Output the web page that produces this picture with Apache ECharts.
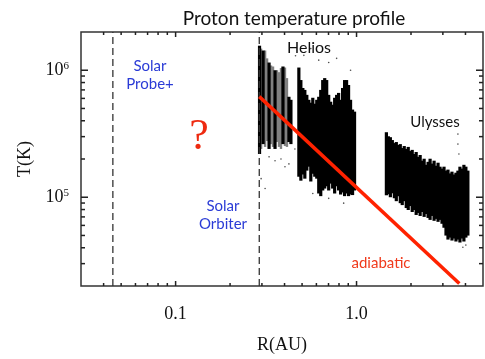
<!DOCTYPE html>
<html>
<head>
<meta charset="utf-8">
<script src="https://cdn.jsdelivr.net/npm/echarts@6/dist/echarts.min.js"></script>
<style>
  html, body { margin: 0; padding: 0; background: #fff; }
  #chart { width: 485px; height: 359px; }
</style>
</head>
<body>
<div id="chart"></div>
<script>
// Helios streaks: [R (AU), T low (K), T high (K)]
const heliosBlack = [
  [0.291, 2.19e5, 1.56e6], [0.3045, 2.62e5, 1.43e6], [0.3285, 2.4e5, 1.15e6],
  [0.3544, 2.4e5, 1.0e6], [0.3921, 2.62e5, 1.07e6], [0.423, 2.72e5, 6.18e5],
  [0.4339, 2.62e5, 5.85e5], [0.480, 1.45e5, 1.05e6], [0.4924, 1.35e5, 8.37e5],
  [0.505, 1.51e5, 7.25e5], [0.5179, 1.40e5, 7.0e5], [0.5312, 1.62e5, 6.4e5],
  [0.5448, 1.74e5, 5.85e5], [0.5588, 1.33e5, 5.55e5], [0.5731, 1.53e5, 6.07e5],
  [0.5877, 1.45e5, 5.45e5], [0.6028, 1.40e5, 5.85e5], [0.6182, 1.07e5, 6.18e5],
  [0.6341, 1.02e5, 7.0e5], [0.6503, 1.13e5, 8.37e5], [0.667, 1.17e5, 8.67e5],
  [0.684, 1.22e5, 8.37e5], [0.7016, 1.13e5, 6.4e5], [0.7196, 1.28e5, 5.65e5],
  [0.738, 1.17e5, 5.35e5], [0.7569, 1.07e5, 6.07e5], [0.7763, 1.22e5, 6.4e5],
  [0.7962, 1.13e5, 6.63e5], [0.8166, 1.05e5, 5.85e5], [0.8375, 1.09e5, 7.25e5],
  [0.859, 1.02e5, 8.37e5], [0.881, 1.07e5, 8.37e5], [0.9036, 1.02e5, 7.65e5],
  [0.9268, 1.05e5, 5.85e5], [0.9506, 1.04e5, 4.9e5], [0.975, 1.13e5, 4.72e5]
]
const heliosGray = [
  [0.2969, 2.4e5, 1.48e6], [0.3123, 2.49e5, 1.43e6], [0.3203, 2.77e5, 1.24e6],
  [0.3369, 2.62e5, 1.09e6], [0.3455, 2.49e5, 1.07e6], [0.3635, 2.72e5, 1.0e6],
  [0.3728, 2.49e5, 9.65e5], [0.3823, 2.4e5, 1.04e6], [0.4022, 2.53e5, 1.05e6],
  [0.4125, 2.49e5, 8.67e5]
]
const heliosDots = [
  [0.3285, 2.08e5], [0.3544, 1.94e5], [0.3823, 2.0e5], [0.4022, 1.74e5],
  [0.423, 1.83e5], [0.2969, 1.40e5], [0.3123, 1.17e5], [0.4564, 2.4e5],
  [0.46, 1.3e6], [0.5115, 1.31e6], [0.5588, 1.48e6], [0.6182, 1.2e6],
  [0.7016, 1.15e6], [0.7763, 1.24e6], [0.9268, 1.0e6], [0.5731, 1.07e5],
  [0.7016, 9.8e4], [0.849, 8.98e4]
]
// Ulysses streaks: [R (AU), T low (K), T high (K)]
const ulysses = [
  [1.462, 1.036e5, 3.25e5], [1.499, 1.055e5, 3.02e5], [1.538, 1.0e5, 2.97e5],
  [1.577, 1.074e5, 2.82e5], [1.618, 9.82e4, 2.67e5], [1.659, 9.31e4, 2.72e5],
  [1.701, 1.018e5, 2.58e5], [1.745, 8.98e4, 2.62e5], [1.789, 8.67e4, 2.44e5],
  [1.835, 9.31e4, 2.53e5], [1.883, 8.22e4, 2.40e5], [1.931, 7.93e4, 2.49e5],
  [1.980, 8.52e4, 2.31e5], [2.031, 7.65e4, 2.36e5], [2.083, 7.93e4, 2.19e5],
  [2.136, 7.25e4, 2.27e5], [2.191, 7.52e4, 2.08e5], [2.247, 7.12e4, 2.15e5],
  [2.305, 7.65e4, 1.94e5], [2.364, 7.0e4, 2.01e5], [2.424, 7.38e4, 1.80e5],
  [2.486, 6.87e4, 1.90e5], [2.550, 6.63e4, 2.01e5], [2.616, 7.12e4, 1.84e5],
  [2.683, 6.52e4, 1.94e5], [2.751, 6.75e4, 1.77e5], [2.822, 6.40e4, 1.87e5],
  [2.894, 6.63e4, 1.74e5], [2.968, 6.18e4, 1.68e5], [3.044, 5.75e4, 1.74e5],
  [3.122, 4.99e4, 1.62e5], [3.202, 4.64e4, 1.65e5], [3.284, 4.81e4, 1.54e5],
  [3.369, 4.56e4, 1.59e5], [3.455, 4.73e4, 1.51e5], [3.544, 4.48e4, 1.56e5],
  [3.634, 4.64e4, 1.62e5], [3.728, 4.40e4, 1.74e5], [3.823, 4.73e4, 1.68e5],
  [3.921, 4.48e4, 1.80e5], [4.021, 4.81e4, 1.74e5], [4.125, 4.99e4, 1.62e5]
]
const ulyssesDots = [
  [3.634, 3.14e5], [3.634, 2.62e5], [3.68, 2.19e5], [3.87, 4.04e4], [4.02, 4.2e4]
]
// adiabatic T ~ R^(-4/3)
const adiabatic = [[0.29, 6.2e5], [3.7, 2.09e4]]
const missionR = [0.045, 0.29] // Solar Probe+, Solar Orbiter perihelia

const xRange = [0.03, 5]
const yRange = [2e4, 2e6]
const xMajor = [0.1, 1]
const xMinor = [0.04, 0.05, 0.06, 0.07, 0.08, 0.09, 0.2, 0.3, 0.4, 0.5, 0.6, 0.7, 0.8, 0.9, 2, 3, 4]
const yMajor = [1e5, 1e6]
const yMinor = [3e4, 4e4, 5e4, 6e4, 7e4, 8e4, 9e4, 2e5, 3e5, 4e5, 5e5, 6e5, 7e5, 8e5, 9e5]

const axisColor = '#222'
const serif = '"Liberation Serif", "DejaVu Serif", serif'
const sans = 'Lato, "Open Sans", sans-serif'

// tick records: [x, y, length] sitting on the frame
const xTickData = []
xMajor.forEach(v => xTickData.push([v, yRange[0], 5], [v, yRange[1], 5]))
xMinor.forEach(v => xTickData.push([v, yRange[0], 3], [v, yRange[1], 3]))
const yTickData = []
yMajor.forEach(v => yTickData.push([xRange[0], v, 7], [xRange[1], v, 7]))
yMinor.forEach(v => yTickData.push([xRange[0], v, 4], [xRange[1], v, 4]))

const chart = echarts.init(document.getElementById('chart'))

chart.setOption({
  animation: false,
  title: {
    text: 'Proton temperature profile',
    left: 289,
    top: 4,
    textAlign: 'center',
    textStyle: { fontFamily: sans, fontSize: 19, fontWeight: 'normal', color: '#111' }
  },
  grid: { left: 81, top: 32, right: 2, bottom: 69, show: true, borderColor: '#333', borderWidth: 1.5 },
  xAxis: {
    type: 'log',
    min: xRange[0],
    max: xRange[1],
    name: 'R(AU)',
    nameLocation: 'middle',
    nameGap: 50,
    nameTextStyle: { fontFamily: serif, fontSize: 18, color: '#111' },
    axisLine: { show: false },
    axisTick: { show: false },
    splitLine: { show: false },
    axisLabel: {
      customValues: xMajor,
      margin: 19,
      fontFamily: serif,
      fontSize: 18,
      color: '#111',
      formatter: v => (v < 0.5 ? '0.1' : '1.0')
    }
  },
  yAxis: {
    type: 'log',
    min: yRange[0],
    max: yRange[1],
    name: 'T(K)',
    nameLocation: 'middle',
    nameGap: 46,
    nameTextStyle: { fontFamily: serif, fontSize: 18, color: '#111' },
    axisLine: { show: false },
    axisTick: { show: false },
    splitLine: { show: false },
    axisLabel: {
      customValues: yMajor,
      margin: 12,
      color: '#111',
      formatter: v => '{b|10}{s|' + Math.round(Math.log10(v)) + '}',
      rich: {
        b: { fontFamily: serif, fontSize: 18, color: '#111' },
        s: { fontFamily: serif, fontSize: 11, color: '#111', verticalAlign: 'bottom', padding: [0, 0, 9, 0] }
      }
    }
  },
  series: [
    // inward frame ticks first
    {
      type: 'custom',
      clip: false,
      z: 6,
      data: xTickData,
      renderItem(params, api) {
        const p = api.coord([api.value(0), api.value(1)])
        const len = api.value(2)
        const up = api.value(1) < 1e5
        return {
          type: 'rect',
          shape: { x: p[0] - 0.75, y: up ? p[1] - len : p[1], width: 1.5, height: len },
          style: { fill: axisColor }
        }
      }
    },
    {
      type: 'custom',
      clip: false,
      z: 6,
      data: yTickData,
      renderItem(params, api) {
        const p = api.coord([api.value(0), api.value(1)])
        const len = api.value(2)
        const left = api.value(0) < 1
        return {
          type: 'rect',
          shape: { x: left ? p[0] : p[0] - len, y: p[1] - 0.75, width: len, height: 1.5 },
          style: { fill: axisColor }
        }
      }
    },
    streaks('Helios gray', heliosGray, '#808080', 2.4),
    streaks('Helios', heliosBlack, '#000', 3.2),
    streaks('Ulysses', ulysses, '#000', 3.2),
    {
      type: 'scatter',
      data: heliosDots.concat(ulyssesDots),
      symbolSize: 1.6,
      itemStyle: { color: '#222' },
      z: 3
    },
    ...missionR.map(r => ({
      type: 'line',
      data: [[r, yRange[0]], [r, yRange[1]]],
      symbol: 'none',
      silent: true,
      lineStyle: { color: '#333', type: [7, 4], width: 1.3 },
      z: 4
    })),
    {
      name: 'adiabatic',
      type: 'line',
      data: adiabatic,
      symbol: 'none',
      lineStyle: { color: '#ff2200', width: 3.5 },
      z: 5
    }
  ],
  graphic: [
    text('Solar\nProbe+', 150, 75, '#2a3bd6', 15, sans),
    text('Solar\nOrbiter', 223, 215, '#2a3bd6', 15, sans),
    text('Helios', 309, 48, '#111', 16, sans),
    text('Ulysses', 435, 122, '#111', 15, sans),
    text('adiabatic', 381, 263, '#f03a1c', 15, sans),
    text('?', 199, 137, '#ee2a10', 44, serif)
  ]
})

function streaks(name, data, color, w) {
  return {
    name,
    type: 'custom',
    data,
    clip: true,
    z: 2,
    encode: { x: 0, y: [1, 2] },
    renderItem(params, api) {
      const lo = api.coord([api.value(0), api.value(1)])
      const hi = api.coord([api.value(0), api.value(2)])
      return {
        type: 'rect',
        shape: { x: lo[0] - w / 2, y: hi[1], width: w, height: lo[1] - hi[1] },
        style: { fill: color }
      }
    }
  }
}

function text(str, x, y, color, size, family) {
  return {
    type: 'text',
    x,
    y,
    z: 10,
    style: {
      text: str,
      fill: color,
      fontSize: size,
      fontFamily: family,
      lineHeight: Math.round(size * 1.2),
      align: 'center',
      verticalAlign: 'middle'
    }
  }
}
</script>
</body>
</html>
